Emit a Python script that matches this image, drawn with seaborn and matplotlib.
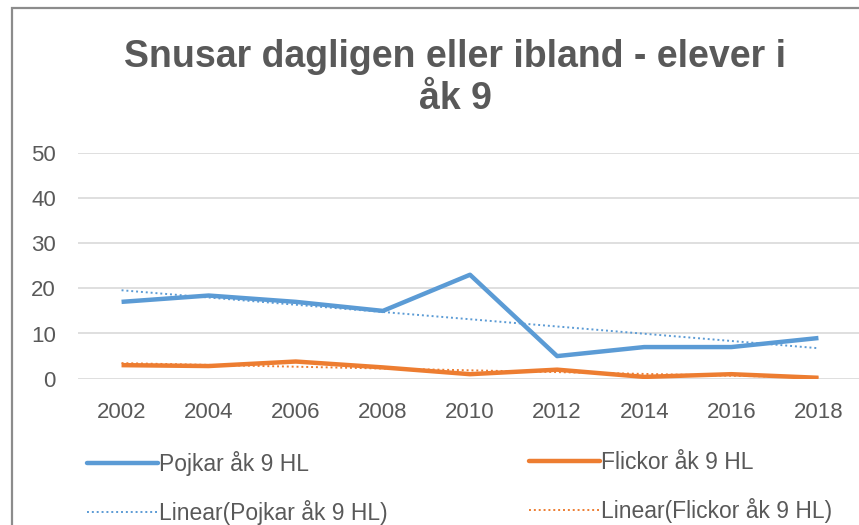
import matplotlib
matplotlib.use('Agg')
import matplotlib.pyplot as plt
import numpy as np
import pandas as pd
import seaborn as sns
from matplotlib.lines import Line2D
from matplotlib.patches import Rectangle

years = ['2002', '2004', '2006', '2008', '2010', '2012', '2014', '2016', '2018']
pojkar = [17, 18.4, 17, 15, 23, 5, 7, 7, 9]
flickor = [3, 2.8, 3.8, 2.5, 1, 2, 0.4, 1, 0.2]
label_p = 'Pojkar åk 9 HL'
label_f = 'Flickor åk 9 HL'

blue = '#5B9BD5'
orange = '#ED7D31'
txt = '#595959'

sns.set_style('white')
plt.rcParams['font.family'] = ['Liberation Sans', 'DejaVu Sans']

df = pd.DataFrame({'pos': np.arange(len(years)), 'Pojkar': pojkar, 'Flickor': flickor})

fig = plt.figure(figsize=(8.59, 5.25), dpi=100)
ax = fig.add_axes([78 / 859, 1 - 378.7 / 525, 784 / 859, 226 / 525])

sns.lineplot(data=df, x='pos', y='Pojkar', ax=ax, color=blue, lw=3.2, solid_capstyle='butt')
sns.lineplot(data=df, x='pos', y='Flickor', ax=ax, color=orange, lw=3.2, solid_capstyle='butt')

# linear trendlines, like Excel's
for col, c in [('Pojkar', blue), ('Flickor', orange)]:
    k, m = np.polyfit(df['pos'], df[col], 1)
    ax.plot(df['pos'], k * df['pos'] + m, color=c, lw=1.4, ls=(0, (1, 1.5)))

ax.set_xlim(-0.5, len(years) - 0.5)
ax.set_ylim(0, 50)
ax.set_yticks(range(0, 51, 10))
ax.set_xticks(df['pos'])
ax.set_xticklabels(years)
ax.set_xlabel('')
ax.set_ylabel('')
ax.grid(axis='y', color='#D9D9D9', lw=1.2)
ax.set_axisbelow(True)
for s in ax.spines.values():
    s.set_visible(False)
ax.tick_params(axis='x', length=0, pad=17, labelsize=16, labelcolor=txt)
ax.tick_params(axis='y', length=0, pad=16, labelsize=16, labelcolor=txt)

fig.text(455 / 859, 1 - 78 / 525, 'Snusar dagligen eller ibland - elever i\nåk 9',
         ha='center', va='center', fontsize=27, fontweight='bold', color=txt,
         linespacing=1.2)

# chart border
fig.patches.append(Rectangle((12 / 859, -0.1), 1.2, 1.1 - 8 / 525, transform=fig.transFigure,
                             fill=False, edgecolor='#8C8C8C', lw=1.6))

leg_kw = dict(frameon=False, fontsize=16.5, handlelength=3.1, handletextpad=0.05,
              labelspacing=1.05, borderpad=0, borderaxespad=0, loc='upper left', labelcolor=txt)
h1 = [Line2D([], [], color=blue, lw=3.2), Line2D([], [], color=blue, lw=1.4, ls=(0, (1, 1.5)))]
h2 = [Line2D([], [], color=orange, lw=3.2), Line2D([], [], color=orange, lw=1.4, ls=(0, (1, 1.5)))]
fig.legend(h1, [label_p, f'Linear({label_p})'], bbox_to_anchor=(87 / 859, 1 - 451 / 525), **leg_kw)
fig.legend(h2, [label_f, f'Linear({label_f})'], bbox_to_anchor=(529 / 859, 1 - 451 / 525), **leg_kw)

fig.savefig('out.png', dpi=100)
